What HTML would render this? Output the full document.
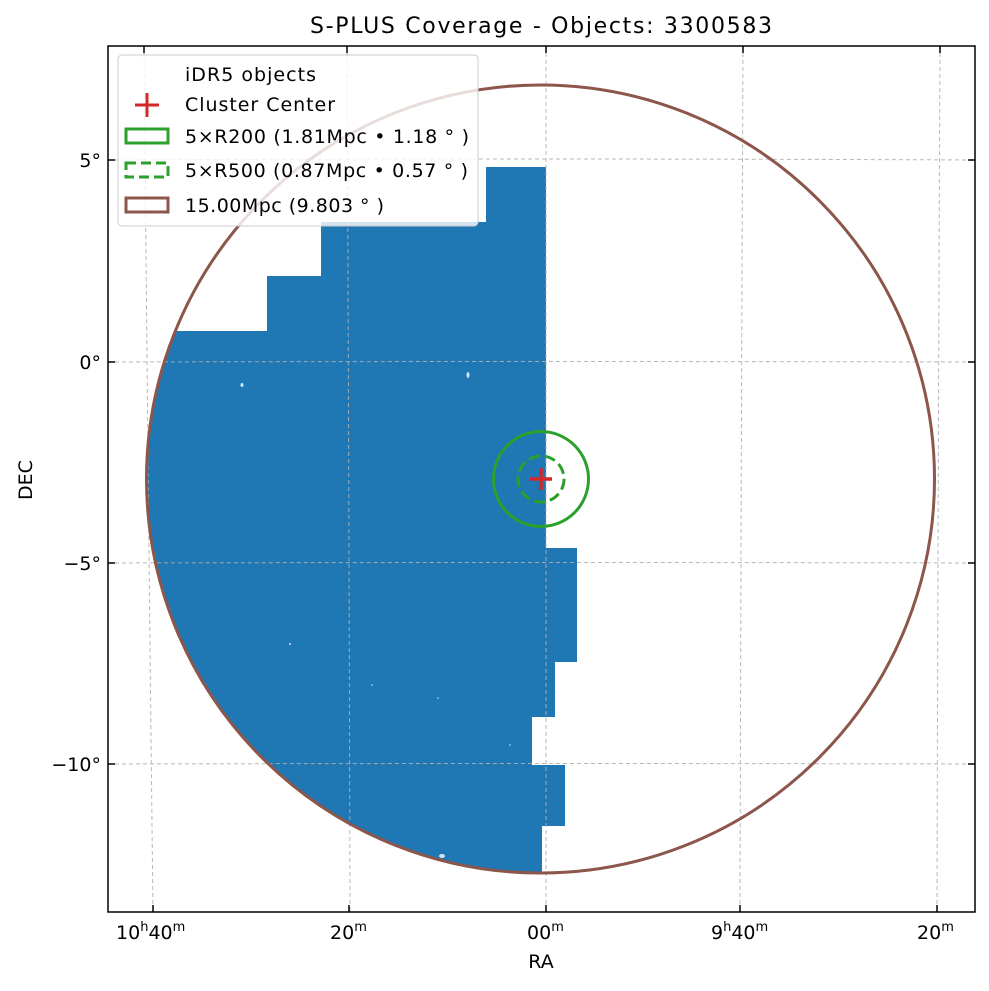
<!DOCTYPE html>
<html><head><meta charset="utf-8"><style>
body{margin:0;background:#fff}
svg text{font-family:"DejaVu Sans","Liberation Sans",sans-serif;fill:#000}
</style></head><body>
<svg width="989" height="986" viewBox="0 0 989 986" xmlns="http://www.w3.org/2000/svg">
<defs><clipPath id="c"><circle cx="540.5" cy="479" r="394"/></clipPath></defs>
<rect width="989" height="986" fill="#fff"/>
<g clip-path="url(#c)">
<polygon fill="#1f77b4" points="100,331 267,331 267,276 321,276 321,222 486,222 486,167 546,167 546,548 577,548 577,662 555,662 555,717 532,717 532,765 565,765 565,826 542,826 542,900 100,900"/>
</g>
<g fill="#fff" opacity="0.8"><ellipse cx="242" cy="385" rx="1.5" ry="2"/><ellipse cx="468" cy="375" rx="1.5" ry="3"/><circle cx="290" cy="644" r="1"/><circle cx="372" cy="685" r="0.8"/><circle cx="438" cy="698" r="0.8"/><circle cx="510" cy="745" r="0.8"/><ellipse cx="442" cy="856" rx="3" ry="2"/></g>
<g stroke="#b0b0b0" stroke-width="1" stroke-dasharray="4,3" fill="none" opacity="0.9">
<path d="M144,46 Q148,480 153,912"/>
<path d="M347,46 Q349,480 350,912"/>
<path d="M546,46 L546,912"/>
<path d="M743,46 Q741,480 740,912"/>
<path d="M940,46 Q938,480 937,912"/>
<path d="M108,160 Q540,158 975,160"/>
<path d="M108,362 Q540,361 975,362"/>
<path d="M108,563 Q540,562 975,563"/>
<path d="M108,764 Q540,763 975,764"/>
</g>
<circle cx="540.5" cy="479" r="394" fill="none" stroke="#8c564b" stroke-width="3"/>
<circle cx="541" cy="479" r="47.5" fill="none" stroke="#2ca02c" stroke-width="3"/>
<circle cx="541" cy="479" r="23" fill="none" stroke="#2ca02c" stroke-width="3" stroke-dasharray="11,5"/>
<path d="M530,479 H552 M541,468 V490" stroke="#d62728" stroke-width="3.5"/>
<rect x="108" y="46" width="867" height="866" fill="none" stroke="#000" stroke-width="1.5"/>
<g stroke="#000" stroke-width="1.5">
<path d="M153,912 v-7 M349,912 v-7 M546,912 v-7 M740,912 v-7 M937,912 v-7"/>
<path d="M144,46 v7 M347,46 v7 M546,46 v7 M743,46 v7 M940,46 v7"/>
<path d="M108,160 h7 M108,362 h7 M108,563 h7 M108,764 h7"/>
<path d="M975,160 h-7 M975,362 h-7 M975,563 h-7 M975,764 h-7"/>
</g>
<g font-size="19">
<text x="116" y="939">10<tspan font-size="13" dy="-8">h</tspan><tspan dy="8">40</tspan><tspan font-size="13" dy="-8">m</tspan></text>
<text x="330" y="939">20<tspan font-size="13" dy="-8">m</tspan></text>
<text x="527" y="939">00<tspan font-size="13" dy="-8">m</tspan></text>
<text x="711" y="939">9<tspan font-size="13" dy="-8">h</tspan><tspan dy="8">40</tspan><tspan font-size="13" dy="-8">m</tspan></text>
<text x="917" y="939">20<tspan font-size="13" dy="-8">m</tspan></text>
<text x="101" y="167" text-anchor="end">5°</text>
<text x="101" y="369" text-anchor="end">0°</text>
<text x="101" y="570" text-anchor="end">−5°</text>
<text x="101" y="771" text-anchor="end">−10°</text>
<text x="541" y="968" text-anchor="middle">RA</text>
<text transform="translate(32,480) rotate(-90)" text-anchor="middle">DEC</text>
<text x="310" y="33" font-size="22" textLength="462">S-PLUS Coverage - Objects: 3300583</text>
</g>
<rect x="118" y="55" width="360" height="171" rx="4" fill="#fff" fill-opacity="0.8" stroke="#ccc"/>
<g font-size="19">
<text x="185" y="81" textLength="131">iDR5 objects</text>
<text x="185" y="111" textLength="150">Cluster Center</text>
<text x="185" y="143" textLength="284">5×R200 (1.81Mpc • 1.18 ° )</text>
<text x="185" y="177" textLength="283">5×R500 (0.87Mpc • 0.57 ° )</text>
<text x="185" y="212" textLength="199">15.00Mpc (9.803 ° )</text>
</g>
<path d="M135,105 H159 M147,93 V117" stroke="#d62728" stroke-width="3"/>
<rect x="126" y="129" width="42" height="14" fill="none" stroke="#2ca02c" stroke-width="3"/>
<rect x="126" y="163" width="42" height="14" fill="none" stroke="#2ca02c" stroke-width="3" stroke-dasharray="10,5"/>
<rect x="126" y="198" width="42" height="14" fill="none" stroke="#8c564b" stroke-width="3"/>
</svg>
</body></html>
